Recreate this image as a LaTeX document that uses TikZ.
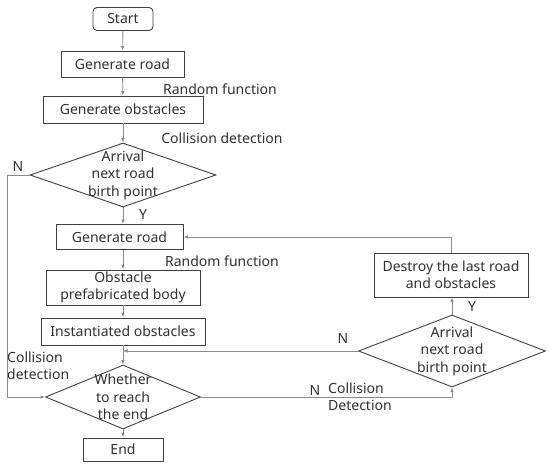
\documentclass[tikz,border=0pt]{standalone}
\usepackage{fontspec}
\setmainfont{Noto Sans}
\usetikzlibrary{shapes.geometric,arrows.meta}
\definecolor{txt}{HTML}{303030}
\definecolor{bord}{HTML}{404040}
\definecolor{conn}{HTML}{8A8A8A}
\begin{document}
\begin{tikzpicture}[x=1pt,y=-1pt,
  every node/.style={text=txt,font=\fontsize{14}{17.5}\selectfont},
  box/.style={draw=bord,line width=0.9pt,inner sep=0pt},
  dia/.style={draw=bord,line width=0.9pt,diamond,inner sep=0pt},
  arr/.style={draw=conn,line width=0.9pt,-{Latex[length=4.5pt,width=3.5pt,fill=bord]}},
  lab/.style={inner sep=0pt}]
\useasboundingbox (0,0) rectangle (550,465);
\node[box,rounded corners=4pt,minimum width=60pt,minimum height=23pt] (start) at (123,19) {Start};
\node[box,minimum width=123pt,minimum height=26pt] (gr1) at (122.5,64) {Generate road};
\node[box,minimum width=160pt,minimum height=27pt] (go) at (123,109.5) {Generate obstacles};
\node[dia,minimum width=186pt,minimum height=64pt] (d1) at (123,175) {};
\node[align=center,lab] at (d1) {Arrival\\next road\\birth point};
\node[box,minimum width=127pt,minimum height=25pt] (gr2) at (119.5,237) {Generate road};
\node[box,minimum width=154pt,minimum height=35pt,align=center] (opb) at (123,287.5) {Obstacle\\prefabricated body};
\node[box,minimum width=164pt,minimum height=27pt] (inst) at (123,331.5) {Instantiated obstacles};
\node[dia,minimum width=155pt,minimum height=64pt] (d2) at (123,397) {};
\node[align=center,lab] at (d2) {Whether\\to reach\\the end};
\node[box,minimum width=80pt,minimum height=23pt] (end) at (123,449.5) {End};
\node[dia,minimum width=187pt,minimum height=72pt] (d3) at (452,351) {};
\node[align=center,lab] at (d3) {Arrival\\next road\\birth point};
\node[box,minimum width=154pt,minimum height=44pt,align=center] (des) at (451,275) {Destroy the last road\\and obstacles};
% labels
\node[lab] (l1) at (220,89) {Random function};
\node[lab] (l2) at (222,138) {Collision detection};
\node[lab] (l3) at (222,261) {Random function};
\node[lab] (n1) at (18,167) {N};
\node[lab] (y1) at (143,215) {Y};
\node[lab] (n2) at (343,339) {N};
\node[lab] (y2) at (472,307) {Y};
\node[lab] (n3) at (315,391) {N};
\node[lab,align=left,anchor=west] (cd1) at (7,366) {Collision\\detection};
\node[lab,align=left,anchor=west] (cd2) at (328,397) {Collision\\Detection};
% connectors
\coordinate (lft) at (7,175);
\coordinate (jn) at (123,351);
\draw[arr] (start) -- (gr1);
\draw[arr] (gr1) -- (go);
\draw[arr] (go) -- (d1);
\draw[arr] (d1.south) -- (d1.south |- gr2.north);
\draw[arr] (d1.west) -- (lft) |- (d2.west);
\draw[arr] (gr2.south -| d1.south) -- (opb);
\draw[arr] (opb) -- (inst);
\draw[arr] (inst) -- (d2);
\draw[arr] (d2.south) -- (end);
\draw[arr] (d2.east) -| (d3.south);
\draw[arr] (d3.north) -- (des.south -| d3.north);
\draw[arr] (des.north) |- (gr2.east);
\draw[arr] (d3.west) -- (jn);
\end{tikzpicture}
\end{document}
